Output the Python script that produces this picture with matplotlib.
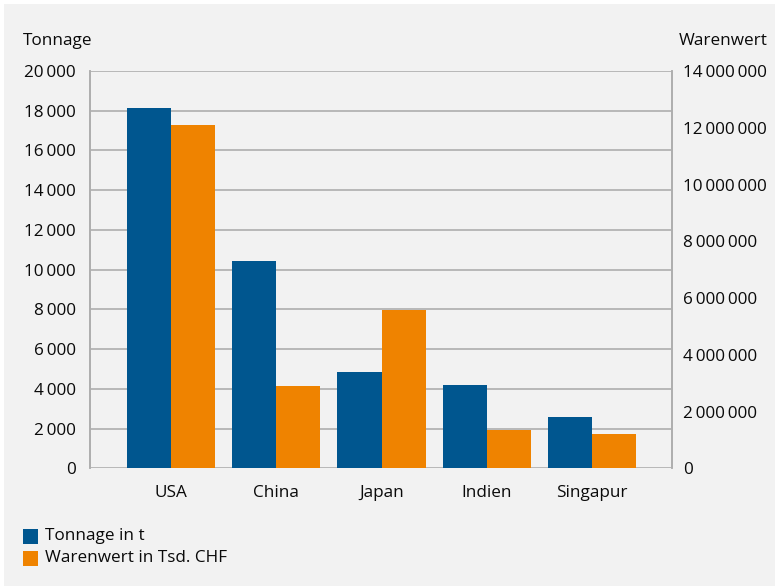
import matplotlib.pyplot as plt
import numpy as np
from matplotlib.patches import Rectangle
from matplotlib.ticker import FuncFormatter

# Daten
laender = ["USA", "China", "Japan", "Indien", "Singapur"]
tonnage = [18150, 10440, 4850, 4190, 2580]
warenwert = [12100000, 2900000, 5580000, 1350000, 1210000]
tonnage_ticks = list(range(0, 20001, 2000))
warenwert_ticks = list(range(0, 14000001, 2000000))

blau = "#00568f"
orange = "#ef8300"
grau_bg = "#f2f2f2"
grau_linie = "#aeaeae"
text_farbe = "#0a0a0a"
fs = 12.3

plt.rcParams['font.family'] = ['Open Sans', 'DejaVu Sans']


def fmt_tsd(v, pos=None):
    # Tausendertrennzeichen als schmaler Abstand
    return f"{int(v):,}".replace(",", "\u2009")


W, H = 779, 588
fig = plt.figure(figsize=(W / 100, H / 100), dpi=100, facecolor="white")
fig.patches.append(Rectangle((4 / W, 2 / H), (W - 8) / W, (H - 6) / H,
                             transform=fig.transFigure, facecolor=grau_bg,
                             edgecolor="none", zorder=-10))

ax = fig.add_axes([90 / W, 119.7 / H, 582 / W, 397.3 / H])
ax.set_facecolor(grau_bg)
ax2 = ax.twinx()

x = np.arange(len(laender))
bw = 0.42
ax.bar(x - bw / 2, tonnage, width=bw, color=blau, zorder=3, label="Tonnage in t")
ax2.bar(x + bw / 2, warenwert, width=bw, color=orange, zorder=3, label="Warenwert in Tsd. CHF")

ax.set_xlim(-0.77, 4.76)
ax.set_ylim(0, 20000)
ax2.set_ylim(0, 14000000)
ax.set_yticks(tonnage_ticks)
ax2.set_yticks(warenwert_ticks)
ax.yaxis.set_major_formatter(FuncFormatter(fmt_tsd))
ax2.yaxis.set_major_formatter(FuncFormatter(fmt_tsd))
ax.set_xticks(x)
ax.set_xticklabels(laender)

ax.grid(axis="y", color=grau_linie, linewidth=1.2, zorder=0)
ax.set_axisbelow(True)
for a in (ax, ax2):
    a.spines["top"].set_visible(False)
    a.spines["bottom"].set_visible(False)
    a.spines["left"].set_color(grau_linie)
    a.spines["right"].set_color(grau_linie)
    a.spines["left"].set_linewidth(1.2)
    a.spines["right"].set_linewidth(1.2)
    a.tick_params(length=0, labelsize=fs, colors=text_farbe)
ax.tick_params(axis="y", pad=10)
ax2.tick_params(axis="y", pad=8)
ax.tick_params(axis="x", pad=12)

fig.text(23 / W, 1 - 41 / H, "Tonnage", ha="left", va="center", fontsize=fs, color=text_farbe)
fig.text(768 / W, 1 - 41 / H, "Warenwert", ha="right", va="center", fontsize=fs, color=text_farbe)

# Legende unten links
for i, (farbe, txt) in enumerate([(blau, "Tonnage in t"), (orange, "Warenwert in Tsd. CHF")]):
    yc = 536 + i * 22
    fig.patches.append(Rectangle((23 / W, 1 - (yc + 7.5) / H), 15 / W, 15 / H,
                                 transform=fig.transFigure, facecolor=farbe, edgecolor="none"))
    fig.text(45 / W, 1 - yc / H, txt, ha="left", va="center", fontsize=fs, color=text_farbe)

fig.savefig("out.png", dpi=100, facecolor=fig.get_facecolor())
